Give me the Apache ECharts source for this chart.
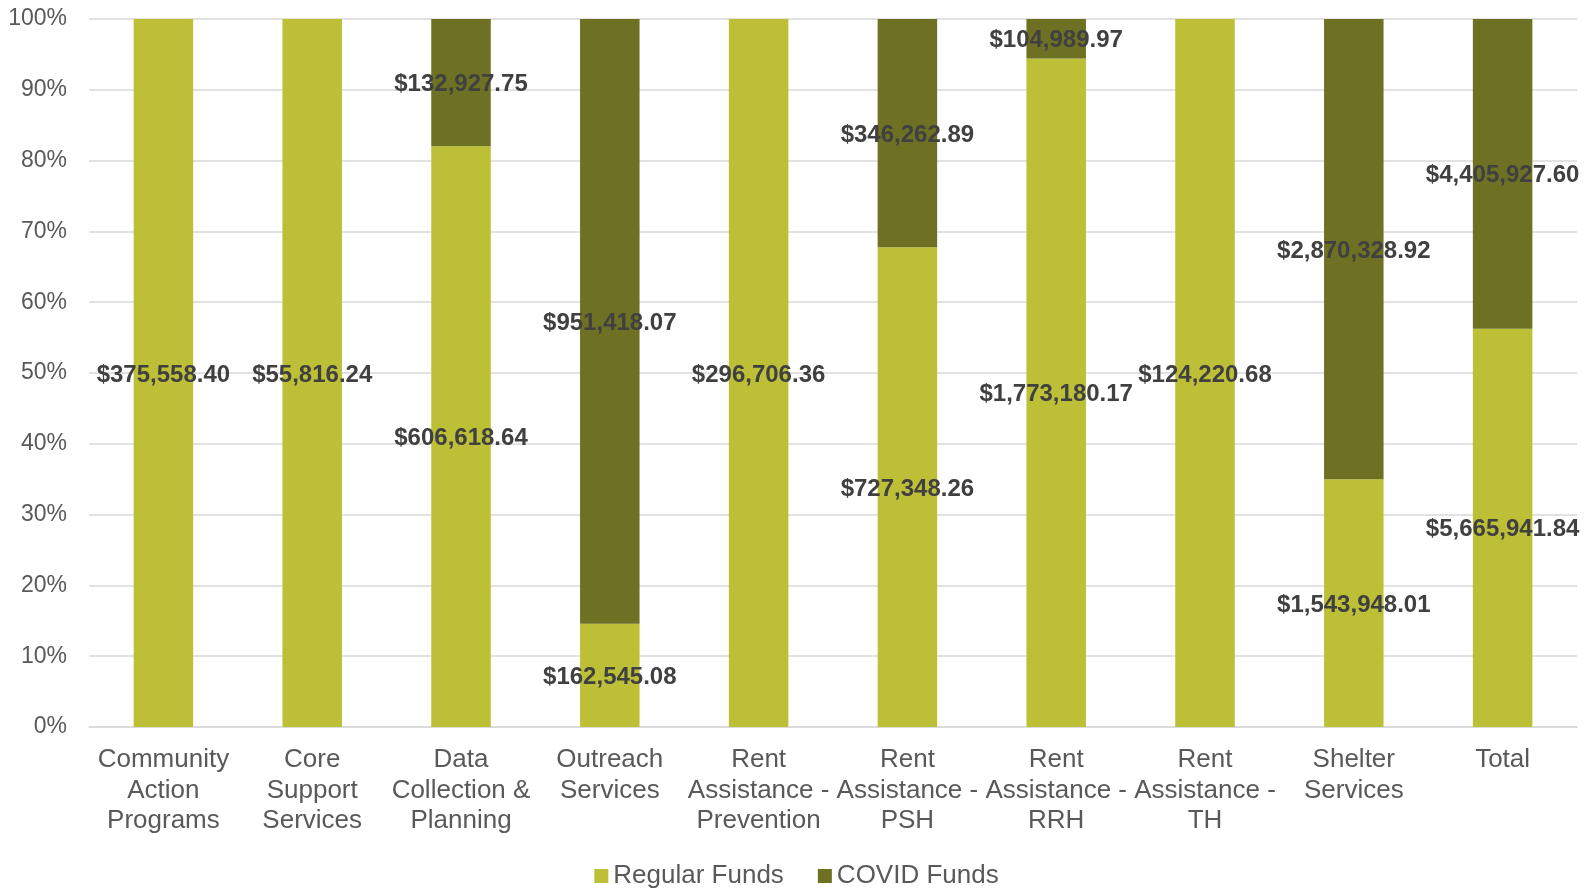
<!DOCTYPE html>
<html><head><meta charset="utf-8">
<script src="https://cdn.jsdelivr.net/npm/echarts@6/dist/echarts.min.js"></script>
<style>html,body{margin:0;padding:0;background:#fff}#c{width:1593px;height:888px}</style>
</head><body><div id="c"></div>
<script>
var categories = ['Community\nAction\nPrograms','Core\nSupport\nServices','Data\nCollection &\nPlanning','Outreach\nServices','Rent\nAssistance -\nPrevention','Rent\nAssistance -\nPSH','Rent\nAssistance -\nRRH','Rent\nAssistance -\nTH','Shelter\nServices','Total'];
var regularFunds = [375558.40, 55816.24, 606618.64, 162545.08, 296706.36, 727348.26, 1773180.17, 124220.68, 1543948.01, 5665941.84];
var covidFunds = [0, 0, 132927.75, 951418.07, 0, 346262.89, 104989.97, 0, 2870328.92, 4405927.60];
var yTicks = {min: 0, max: 100, interval: 10};

function pct(arr, i){ var t = regularFunds[i] + covidFunds[i]; return t ? arr[i] / t * 100 : 0; }
function money(v){ return '$' + v.toLocaleString('en-US', {minimumFractionDigits: 2, maximumFractionDigits: 2}); }
function mkData(arr){ return arr.map(function(v, i){ return {value: pct(arr, i), raw: v}; }); }

var FONT = '"Liberation Sans", Arial, sans-serif';
var lbl = {
  show: true, position: 'inside', color: '#404040', fontWeight: 'bold', fontSize: 24, fontFamily: FONT,
  offset: [0, 2],
  formatter: function(p){ return p.data.raw ? money(p.data.raw) : ''; }
};
var chart = echarts.init(document.getElementById('c'), null, {renderer: 'canvas'});
chart.setOption({
  animation: false,
  textStyle: {fontFamily: FONT},
  grid: {left: 89, right: 16, top: 19, bottom: 161, containLabel: false},
  legend: {
    top: 858, left: 'center', itemWidth: 14, itemHeight: 14, itemGap: 34,
    textStyle: {fontSize: 26, color: '#595959', fontFamily: FONT},
    icon: 'rect',
    data: ['Regular Funds', 'COVID Funds']
  },
  xAxis: {
    type: 'category', data: categories,
    axisLine: {lineStyle: {color: '#D9D9D9', width: 1.5}},
    axisTick: {show: false},
    axisLabel: {color: '#595959', fontSize: 26, lineHeight: 30.5, margin: 18, interval: 0, fontFamily: FONT}
  },
  yAxis: {
    type: 'value', min: yTicks.min, max: yTicks.max, interval: yTicks.interval,
    axisLabel: {formatter: '{value}%', color: '#595959', fontSize: 23, margin: 22, fontFamily: FONT},
    splitLine: {lineStyle: {color: '#D9D9D9', width: 1.5}},
    axisLine: {show: false}, axisTick: {show: false}
  },
  series: [
    {name: 'Regular Funds', type: 'bar', stack: 's', barWidth: '40%', data: mkData(regularFunds),
     itemStyle: {color: '#BDC037'}, label: lbl},
    {name: 'COVID Funds', type: 'bar', stack: 's', barWidth: '40%', data: mkData(covidFunds),
     itemStyle: {color: '#6E7123'}, label: lbl}
  ]
});
</script></body></html>
